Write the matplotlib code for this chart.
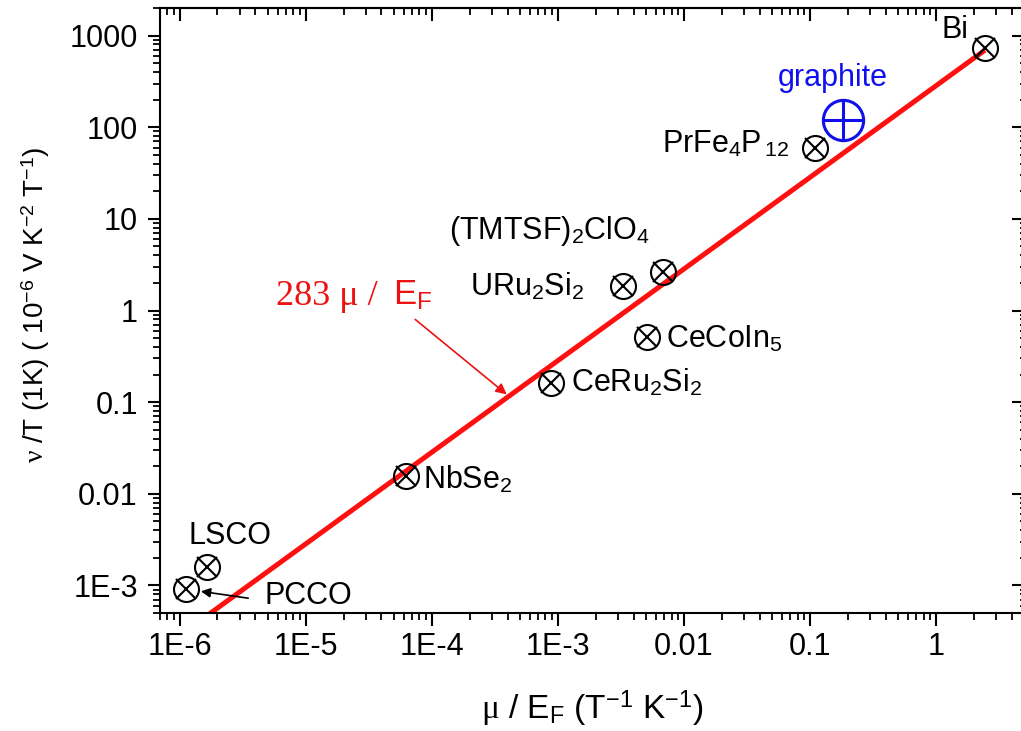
import numpy as np
import matplotlib
matplotlib.use("Agg")
import matplotlib.pyplot as plt
from matplotlib.ticker import LogLocator, FixedLocator, NullFormatter

plt.rcParams['font.family'] = ['Liberation Sans', 'DejaVu Sans']
plt.rcParams['mathtext.fontset'] = 'custom'
plt.rcParams['mathtext.rm'] = 'Liberation Sans'
plt.rcParams['mathtext.it'] = 'Liberation Serif'
plt.rcParams['mathtext.bf'] = 'Liberation Sans:bold'

# Materials: mu/E_F (T^-1 K^-1) and nu/T at 1 K (1e-6 V K^-2 T^-1)
materials = ['Bi', 'PrFe$_4$P$_{\\,12}$', '(TMTSF)$_2$ClO$_4$', 'URu$_2$Si$_2$',
             'CeCoIn$_5$', 'CeRu$_2$Si$_2$', 'NbSe$_2$', 'LSCO', 'PCCO']
mu_over_ef = [2.45, 0.11, 0.0068, 0.0033, 0.0051, 8.9e-4, 6.3e-5, 1.64e-6, 1.12e-6]
nu_over_t = [740, 59, 2.64, 1.86, 0.52, 0.163, 0.0155, 1.58e-3, 9.1e-4]

graphite_x = [0.183]
graphite_y = [120]

slope = 283.0
line_x = np.array([1e-6, 2.45])

# label placement: (dx, dy) in points from the marker, horizontal alignment
label_style = {
    'Bi': ((-12, 7), 'right'),
    'PrFe$_4$P$_{\\,12}$': ((-19, -3), 'right'),
    '(TMTSF)$_2$ClO$_4$': ((-9, 24), 'right'),
    'URu$_2$Si$_2$': ((-28, -7), 'right'),
    'CeCoIn$_5$': ((14, -8), 'left'),
    'CeRu$_2$Si$_2$': ((14, -6.5), 'left'),
    'NbSe$_2$': ((12, -8.6), 'left'),
    'LSCO': ((-13, 16.5), 'left'),
    'PCCO': ((57, -11), 'left'),
}

fig = plt.figure(figsize=(10.21, 7.31), dpi=100)
ax = fig.add_axes([160 / 1021, 118 / 731, 864 / 1021, 605 / 731])
ax.set_xscale('log')
ax.set_yscale('log')
ax.set_xlim(7e-7, 5)
ax.set_ylim(5e-4, 2000)

ax.plot(line_x, slope * line_x, color='#ff1010', lw=3.6, solid_capstyle='butt', zorder=2)

ax.plot(mu_over_ef, nu_over_t, ls='none', marker='o', ms=18, mfc='none',
        mec='black', mew=1.5, zorder=3)
ax.plot(mu_over_ef, nu_over_t, ls='none', marker='x', ms=15, mec='black',
        mew=1.5, zorder=3)

ax.plot(graphite_x, graphite_y, ls='none', marker='o', ms=29, mfc='none',
        mec='#1010ee', mew=2.2, zorder=3)
ax.plot(graphite_x, graphite_y, ls='none', marker='+', ms=29, mec='#1010ee',
        mew=2.2, zorder=3)

fs = 22
for name, x, y in zip(materials, mu_over_ef, nu_over_t):
    (dx, dy), ha = label_style[name]
    ax.annotate(name, xy=(x, y), xytext=(dx, dy), textcoords='offset points',
                ha=ha, va='baseline', fontsize=fs, color='black')

ax.annotate('graphite', xy=(graphite_x[0], graphite_y[0]), xytext=(-7, 30),
            textcoords='offset points', ha='center', va='center',
            fontsize=fs, color='#1010ee')

# PCCO pointer
ax.annotate('', xy=(mu_over_ef[-1], nu_over_t[-1]), xytext=(45, -6.5),
            textcoords='offset points',
            arrowprops=dict(arrowstyle='-|>', color='black', lw=1.2,
                            shrinkA=0, shrinkB=11, mutation_scale=14))

# fit label and its arrow
ax.text(3.75e-5, 1.15, '283 μ /', family='Liberation Serif', fontsize=26,
        color='#ee1111', ha='right', va='baseline')
ax.text(4.9e-5, 1.15, 'E$_\\mathrm{F}$', fontsize=25,
        color='#ee1111', ha='left', va='baseline')
tip_x = 4.1e-4
ax.annotate('', xy=(tip_x, slope * tip_x), xytext=(7.4e-5, 0.8),
            arrowprops=dict(arrowstyle='-|>', color='#ee1111', lw=1.2,
                            shrinkA=0, shrinkB=2, mutation_scale=16))

# ticks
xmajor = [1e-6, 1e-5, 1e-4, 1e-3, 1e-2, 1e-1, 1]
xlabels = ['1E-6', '1E-5', '1E-4', '1E-3', '0.01', '0.1', '1']
ymajor = [1e-3, 1e-2, 1e-1, 1, 10, 100, 1000]
ylabels = ['1E-3', '0.01', '0.1', '1', '10', '100', '1000']

ax.xaxis.set_major_locator(FixedLocator(xmajor))
ax.set_xticklabels(xlabels)
ax.yaxis.set_major_locator(FixedLocator(ymajor))
ax.set_yticklabels(ylabels)
ax.xaxis.set_minor_locator(LogLocator(base=10, subs=np.arange(2, 10), numticks=20))
ax.yaxis.set_minor_locator(LogLocator(base=10, subs=np.arange(2, 10), numticks=20))
ax.xaxis.set_minor_formatter(NullFormatter())
ax.yaxis.set_minor_formatter(NullFormatter())

ax.tick_params(which='major', direction='out', length=9, width=1.5,
               labelsize=fs, top=False, right=False)
ax.tick_params(axis='x', which='major', pad=5)
ax.tick_params(axis='y', which='major', pad=7)
ax.tick_params(which='minor', direction='out', length=5, width=1.3,
               top=False, right=False)

sx = ax.secondary_xaxis('top')
sx.xaxis.set_major_locator(FixedLocator(xmajor))
sx.xaxis.set_minor_locator(LogLocator(base=10, subs=np.arange(2, 10), numticks=20))
sx.tick_params(which='major', direction='in', length=9, width=1.5, labeltop=False)
sx.tick_params(which='minor', direction='in', length=5, width=1.3)
sx.xaxis.set_major_formatter(NullFormatter())
sx.xaxis.set_minor_formatter(NullFormatter())

sy = ax.secondary_yaxis('right')
sy.yaxis.set_major_locator(FixedLocator(ymajor))
sy.yaxis.set_minor_locator(LogLocator(base=10, subs=np.arange(2, 10), numticks=20))
sy.tick_params(which='major', direction='in', length=9, width=1.5, labelright=False)
sy.tick_params(which='minor', direction='in', length=3, width=1.3)
sy.yaxis.set_major_formatter(NullFormatter())
sy.yaxis.set_minor_formatter(NullFormatter())

for s in list(ax.spines.values()) + [sx.spines['top'], sy.spines['right']]:
    s.set_linewidth(1.5)

ax.set_xlabel('$\\mu$ / E$_\\mathrm{F}$ (T$^{-1}$ K$^{-1}$)', fontsize=24)
ax.xaxis.label.set_verticalalignment('baseline')
ax.xaxis.set_label_coords(0.5, -0.175)
ax.set_ylabel('$\\nu$ /T (1K) ( 10$^{-6}$ V K$^{-2}$ T$^{-1}$)', fontsize=20)
ax.yaxis.set_label_coords(-0.125, 0.509)

fig.savefig('out.png', dpi=100)
